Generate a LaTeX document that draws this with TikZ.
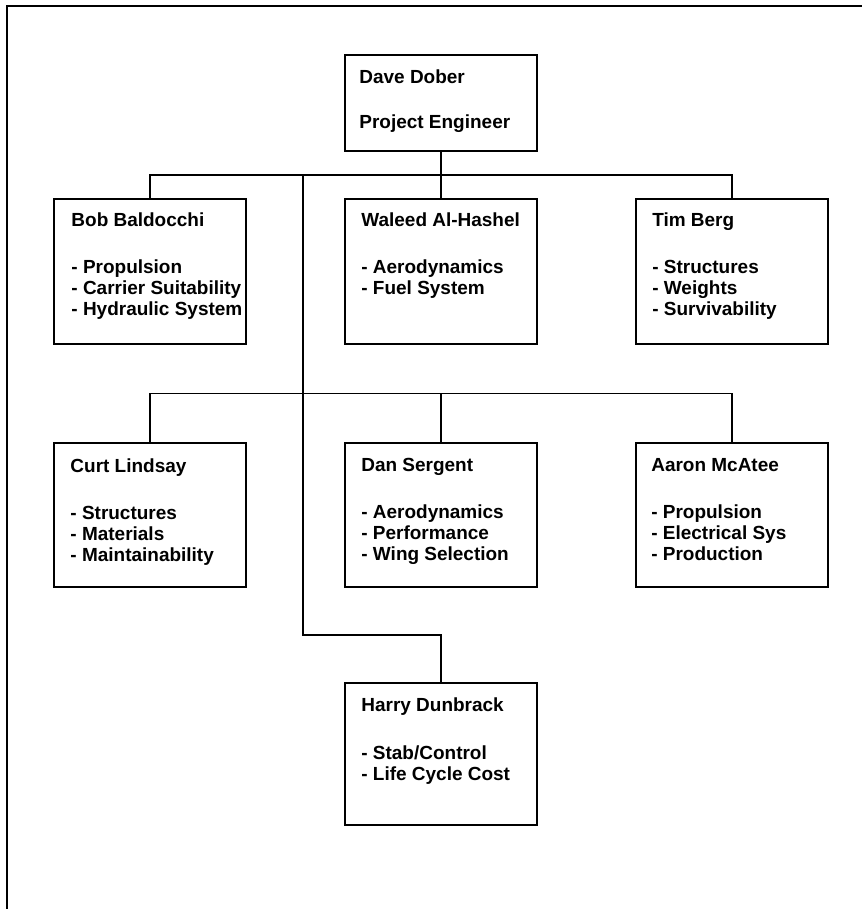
\documentclass[tikz,border=0pt]{standalone}
\usepackage{fontspec}
\setmainfont{Liberation Sans}
\usepackage{tikz}
\usetikzlibrary{positioning, calc}

\begin{document}
\begin{tikzpicture}[box/.style={draw, line width=1.1pt, minimum width=3.84cm, inner sep=0pt},txt/.style={align=left, inner sep=0pt, font=\bfseries\fontsize{10.8}{12}\selectfont},link/.style={line width=0.8pt}]
\useasboundingbox (0,0) rectangle (17.24,-18.18);
\draw[line width=1.1pt] (17.24,-0.12) -- (0.14,-0.12) -- (0.14,-18.18);
\node[box, minimum height=1.92cm] (dave) at (8.82,-2.06) {};
\node[box, minimum height=2.9cm, below=0.92cm of dave] (waleed) {};
\node[box, minimum height=2.9cm, left=1.94cm of waleed] (bob) {};
\node[box, minimum height=2.9cm, right=1.94cm of waleed] (tim) {};
\node[box, minimum height=2.88cm, below=1.94cm of waleed] (dan) {};
\node[box, minimum height=2.88cm, left=1.94cm of dan] (curt) {};
\node[box, minimum height=2.88cm, right=1.94cm of dan] (aaron) {};
\node[box, minimum height=2.84cm, below=1.88cm of dan] (harry) {};
\node[txt, below right=0.3cm and 0.3cm of dave.north west] (daveT) {Dave Dober\\[0.48cm]Project Engineer};
\node[txt, below right=0.28cm and 0.36cm of bob.north west] (bobT) {Bob Baldocchi\\[0.52cm]- Propulsion\\- Carrier Suitability\\- Hydraulic System};
\node[txt, below right=0.28cm and 0.34cm of waleed.north west] (waleedT) {Waleed Al-Hashel\\[0.52cm]- Aerodynamics\\- Fuel System};
\node[txt, below right=0.28cm and 0.34cm of tim.north west] (timT) {Tim Berg\\[0.52cm]- Structures\\- Weights\\- Survivability};
\node[txt, below right=0.32cm and 0.34cm of curt.north west] (curtT) {Curt Lindsay\\[0.52cm]- Structures\\- Materials\\- Maintainability};
\node[txt, below right=0.32cm and 0.34cm of dan.north west] (danT) {Dan Sergent\\[0.52cm]- Aerodynamics\\- Performance\\- Wing Selection};
\node[txt, below right=0.32cm and 0.32cm of aaron.north west] (aaronT) {Aaron McAtee\\[0.52cm]- Propulsion\\- Electrical Sys\\- Production};
\node[txt, below right=0.32cm and 0.34cm of harry.north west] (harryT) {Harry Dunbrack\\[0.52cm]- Stab/Control\\- Life Cycle Cost};
\coordinate (bus1) at ($(dave.south)!0.5!(waleed.north)$);
\coordinate (bus2) at ($(waleed.south)!0.5!(dan.north)$);
\coordinate (bend) at ($(dan.south)!0.5!(harry.north)$);
\path ([xshift=1.12cm]bob.east) coordinate (trunk);
\draw[link] (dave.south) -- (waleed.north);
\draw[link] (bob.north) |- (bus1) -| (tim.north);
\draw[link] (curt.north) |- (bus2) -| (aaron.north);
\draw[link] (bus2) -- (dan.north);
\draw[link] (trunk |- bus1) |- (bend) -| (harry.north);
\end{tikzpicture}
\end{document}
